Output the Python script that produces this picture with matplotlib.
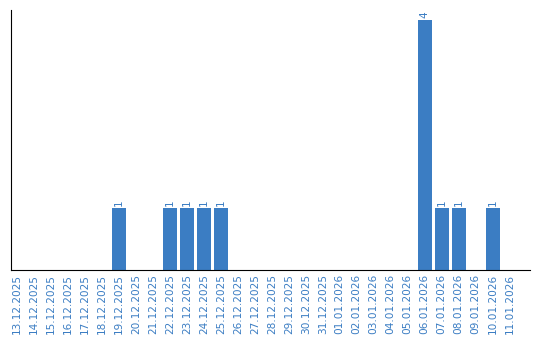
import matplotlib
matplotlib.use("Agg")
import matplotlib.pyplot as plt

dates = ["13.12.2025", "14.12.2025", "15.12.2025", "16.12.2025", "17.12.2025",
         "18.12.2025", "19.12.2025", "20.12.2025", "21.12.2025", "22.12.2025",
         "23.12.2025", "24.12.2025", "25.12.2025", "26.12.2025", "27.12.2025",
         "28.12.2025", "29.12.2025", "30.12.2025", "31.12.2025", "01.01.2026",
         "02.01.2026", "03.01.2026", "04.01.2026", "05.01.2026", "06.01.2026",
         "07.01.2026", "08.01.2026", "09.01.2026", "10.01.2026", "11.01.2026"]
counts = [0, 0, 0, 0, 0, 0, 1, 0, 0, 1, 1, 1, 1, 0, 0, 0, 0, 0, 0, 0,
          0, 0, 0, 0, 4, 1, 1, 0, 1, 0]

blue = "#3b7dc3"

fig = plt.figure(figsize=(5.4, 3.4), dpi=100)
ax = fig.add_axes([11 / 540, 70 / 340, 519 / 540, 260 / 340])

x = list(range(len(dates)))
ax.bar(x, counts, width=0.82, color=blue)
for xi, c in zip(x, counts):
    if c > 0:
        ax.text(xi, c + 0.03, str(c), rotation=90, ha="center", va="bottom",
                color=blue, fontsize=7.5)

ax.set_xlim(-0.35, 30.2)
ax.set_ylim(0, 4.16)
ax.set_xticks(x)
ax.set_xticklabels(dates, rotation=90, color=blue, fontsize=7.6)
ax.tick_params(axis="x", length=0, pad=3)
ax.set_yticks([])
ax.spines["top"].set_visible(False)
ax.spines["right"].set_visible(False)
ax.spines["left"].set_color("black")
ax.spines["bottom"].set_color("black")

fig.savefig("out.png", dpi=100)
